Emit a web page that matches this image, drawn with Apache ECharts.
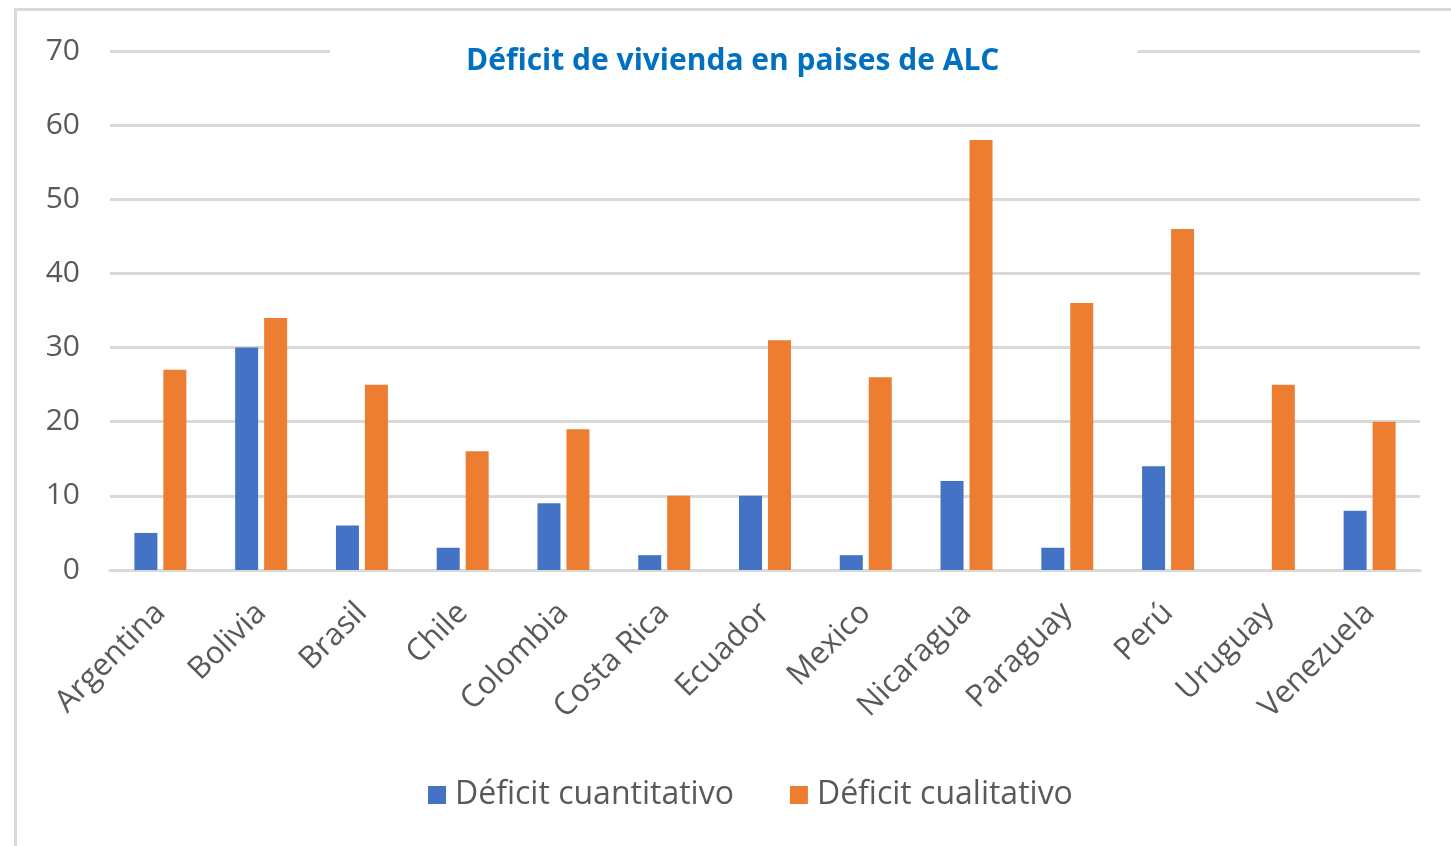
<!DOCTYPE html>
<html>
<head>
<meta charset="utf-8">
<script src="https://cdn.jsdelivr.net/npm/echarts@6/dist/echarts.min.js"></script>
<style>
html, body { margin: 0; padding: 0; background: #fff; }
#chart { width: 1451px; height: 846px; }
</style>
</head>
<body>
<div id="chart"></div>
<script>
const paises = ["Argentina", "Bolivia", "Brasil", "Chile", "Colombia", "Costa Rica", "Ecuador", "Mexico", "Nicaragua", "Paraguay", "Perú", "Uruguay", "Venezuela"];
const cuantitativo = [5, 30, 6, 3, 9, 2, 10, 2, 12, 3, 14, 0, 8];
const cualitativo = [27, 34, 25, 16, 19, 10, 31, 26, 58, 36, 46, 25, 20];

const fuente = "'Open Sans', 'Noto Sans', sans-serif";
const gris = "#595959";

const chart = echarts.init(document.getElementById("chart"));
chart.setOption({
    backgroundColor: "#fff",
    animation: false,
    graphic: [
        {
            type: "rect",
            left: 13,
            top: 7,
            shape: { width: 1600, height: 1000 },
            style: { fill: "none", stroke: "#d9d9d9", lineWidth: 3 },
            z: -1,
        },
    ],
    title: {
        text: "Déficit de vivienda en paises de ALC",
        left: 330,
        top: 46,
        padding: [0, 138, 0, 136],
        backgroundColor: "#fff",
        textStyle: {
            color: "#0070c0",
            fontSize: 30,
            fontWeight: "bold",
            fontFamily: fuente,
        },
    },
    grid: {
        left: 110,
        right: 31,
        top: 51,
        bottom: 276,
    },
    legend: {
        bottom: 30,
        left: 423,
        icon: "rect",
        itemWidth: 18,
        itemHeight: 18,
        itemGap: 56,
        textStyle: { color: gris, fontSize: 32, fontFamily: fuente, padding: [0, 0, 0, 4] },
        data: ["Déficit cuantitativo", "Déficit cualitativo"],
    },
    xAxis: {
        type: "category",
        data: paises,
        axisTick: { show: false },
        axisLine: { lineStyle: { color: "#d9d9d9", width: 3 } },
        axisLabel: {
            rotate: 45,
            margin: 38,
            color: gris,
            fontSize: 31,
            fontFamily: fuente,
            interval: 0,
        },
    },
    yAxis: {
        type: "value",
        min: 0,
        max: 70,
        interval: 10,
        axisLine: { show: false },
        axisTick: { show: false },
        splitLine: { lineStyle: { color: "#d9d9d9", width: 3 } },
        axisLabel: { color: gris, fontSize: 30, fontFamily: fuente, margin: 30 },
    },
    series: [
        {
            name: "Déficit cuantitativo",
            type: "bar",
            data: cuantitativo,
            barWidth: 23,
            barGap: "26%",
            itemStyle: { color: "#4472c4" },
        },
        {
            name: "Déficit cualitativo",
            type: "bar",
            data: cualitativo,
            barWidth: 23,
            barGap: "26%",
            itemStyle: { color: "#ed7d31" },
        },
    ],
});
</script>
</body>
</html>
